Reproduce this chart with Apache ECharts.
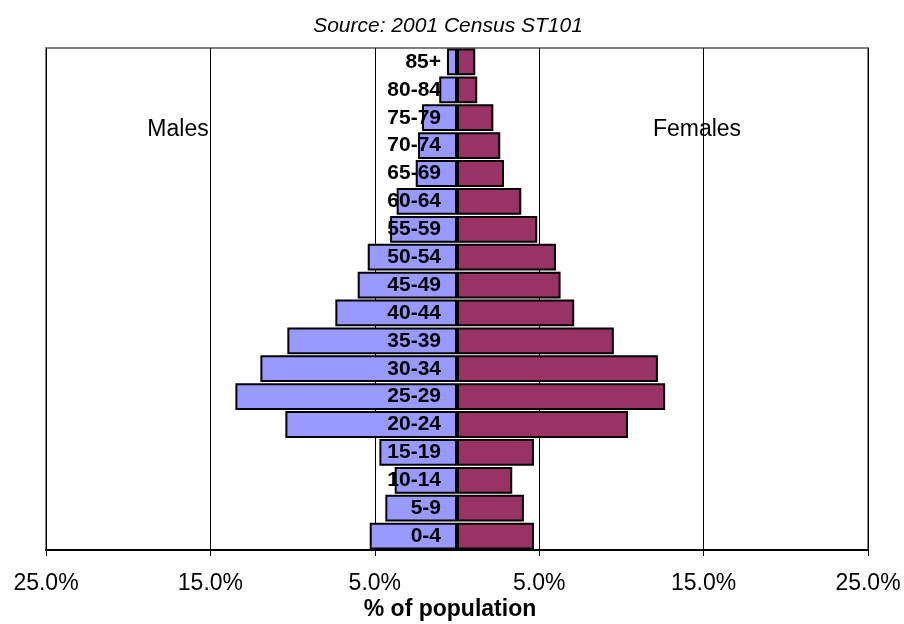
<!DOCTYPE html>
<html>
<head>
<meta charset="utf-8">
<title>Population pyramid</title>
<script src="https://cdn.jsdelivr.net/npm/echarts@6/dist/echarts.min.js"></script>
<style>
  html, body { margin: 0; padding: 0; background: #fff; }
  #chart { width: 904px; height: 624px; }
</style>
</head>
<body>
<div id="chart"></div>
<script>
// age bands, bottom to top
const ageGroups = ["0-4", "5-9", "10-14", "15-19", "20-24", "25-29", "30-34", "35-39", "40-44",
  "45-49", "50-54", "55-59", "60-64", "65-69", "70-74", "75-79", "80-84", "85+"];
// % of population
const males = [5.31, 4.36, 3.79, 4.72, 10.44, 13.48, 11.96, 10.32, 7.40,
  6.04, 5.43, 4.07, 3.67, 2.51, 2.37, 2.13, 1.08, 0.61];
const females = [4.68, 4.07, 3.36, 4.68, 10.40, 12.66, 12.22, 9.54, 7.13,
  6.30, 6.02, 4.88, 3.91, 2.86, 2.63, 2.21, 1.23, 1.11];
// tick labels run 25..5..25, drawn on a shifted 0..50 axis
const tickStep = 10;
const halfRange = 25;

const font = 'Arial, "Liberation Sans", sans-serif';
const chart = echarts.init(document.getElementById("chart"));

const option = {
  backgroundColor: "#fff",
  animation: false,
  title: {
    text: "Source: 2001 Census ST101",
    left: 443,
    top: 11,
    textAlign: "center",
    textStyle: { fontFamily: font, fontSize: 21, fontStyle: "italic", fontWeight: "normal", color: "#000" }
  },
  grid: {
    left: 46, right: 36, top: 48, bottom: 74,
    containLabel: false,
    outerBoundsMode: "none",
    show: true,
    borderColor: "#808080",
    borderWidth: 2,
    backgroundColor: "#fff"
  },
  xAxis: [
    {
      // data axis (hidden)
      type: "value",
      min: -halfRange,
      max: halfRange,
      show: false
    },
    {
      // visible ticks / gridlines
      type: "value",
      position: "bottom",
      min: 0,
      max: 2 * halfRange,
      interval: tickStep,
      axisLine: { show: true, lineStyle: { color: "#000", width: 2 } },
      axisTick: { show: true, length: 6, lineStyle: { color: "#000", width: 1 } },
      splitLine: { show: true, lineStyle: { color: "#000", width: 1 } },
      axisLabel: {
        margin: 22,
        fontFamily: font,
        fontSize: 23,
        color: "#000",
        formatter: (v) => Math.abs(v - halfRange).toFixed(1) + "%"
      }
    }
  ],
  yAxis: {
    type: "category",
    data: ageGroups,
    axisLine: { show: false },
    axisTick: { show: false },
    splitLine: { show: false },
    axisLabel: { show: false }
  },
  graphic: [
    {
      type: "text", x: 178, y: 130, z: 20,
      style: { text: "Males", fontFamily: font, fontSize: 23, fill: "#000", align: "center", verticalAlign: "middle" }
    },
    {
      type: "text", x: 697, y: 130, z: 20,
      style: { text: "Females", fontFamily: font, fontSize: 23, fill: "#000", align: "center", verticalAlign: "middle" }
    },
    {
      type: "text", x: 450, y: 610, z: 20,
      style: { text: "% of population", fontFamily: font, fontSize: 23, fontWeight: "bold", fill: "#000", align: "center", verticalAlign: "middle" }
    }
  ],
  series: [
    {
      name: "Males",
      type: "bar",
      xAxisIndex: 0,
      data: males.map((v) => -v),
      barGap: "-100%",
      barCategoryGap: "4%",
      z: 3,
      itemStyle: { color: "#9999FF", borderColor: "#000", borderWidth: 2 },
      label: {
        show: true,
        position: "insideRight",
        distance: 16,
        formatter: (p) => ageGroups[p.dataIndex],
        fontFamily: font,
        fontSize: 21,
        fontWeight: "bold",
        color: "#000"
      }
    },
    {
      name: "Females",
      type: "bar",
      xAxisIndex: 0,
      data: females,
      barGap: "-100%",
      barCategoryGap: "4%",
      itemStyle: { color: "#993366", borderColor: "#000", borderWidth: 2 }
    }
  ]
};

chart.setOption(option);
</script>
</body>
</html>
